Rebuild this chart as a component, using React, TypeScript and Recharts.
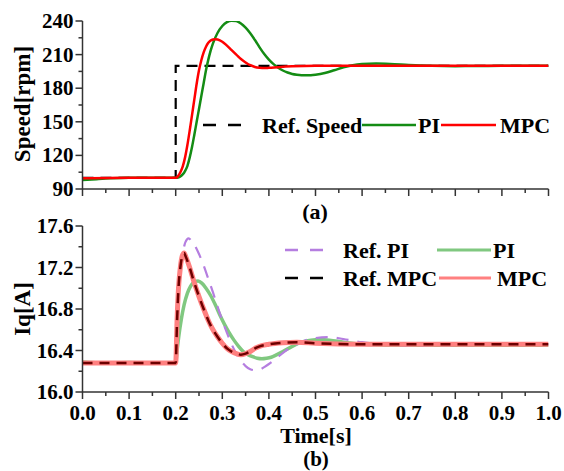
import { LineChart, Line, XAxis, YAxis } from "recharts";

const FONT = "'Liberation Serif', 'Times New Roman', serif";
const AXIS = "#333";

// ticks
const timeTicks = [0, 0.05, 0.1, 0.15, 0.2, 0.25, 0.3, 0.35, 0.4, 0.45, 0.5, 0.55, 0.6, 0.65, 0.7, 0.75, 0.8, 0.85, 0.9, 0.95, 1];
const timeLabels = [0, 0.1, 0.2, 0.3, 0.4, 0.5, 0.6, 0.7, 0.8, 0.9, 1];
const speedTicks = [90, 105, 120, 135, 150, 165, 180, 195, 210, 225, 240];
const speedLabels = [90, 120, 150, 180, 210, 240];
const iqTicks = [16.0, 16.2, 16.4, 16.6, 16.8, 17.0, 17.2, 17.4, 17.6];
const iqLabels = [16.0, 16.4, 16.8, 17.2, 17.6];

// (a) speed
const refSpeed = [
  { t: 0, v: 100 }, { t: 0.2, v: 100 }, { t: 0.2, v: 200 }, { t: 1, v: 200 },
];
const piSpeed = [
  { t: 0, v: 98 }, { t: 0.03, v: 98.8 }, { t: 0.06, v: 99.5 }, { t: 0.1, v: 100 }, { t: 0.2, v: 100 },
  { t: 0.205, v: 100.3 }, { t: 0.21, v: 101.2 }, { t: 0.215, v: 103 }, { t: 0.22, v: 106 },
  { t: 0.225, v: 110.5 }, { t: 0.23, v: 118 }, { t: 0.235, v: 127.5 }, { t: 0.24, v: 138.5 },
  { t: 0.245, v: 150 }, { t: 0.25, v: 161.5 }, { t: 0.255, v: 173 }, { t: 0.26, v: 184.5 },
  { t: 0.265, v: 196 }, { t: 0.27, v: 205.5 }, { t: 0.275, v: 213.5 }, { t: 0.28, v: 220 },
  { t: 0.29, v: 229.5 }, { t: 0.3, v: 235.5 }, { t: 0.31, v: 239 }, { t: 0.32, v: 240.3 },
  { t: 0.33, v: 240 }, { t: 0.34, v: 237.8 }, { t: 0.35, v: 234 }, { t: 0.36, v: 229 },
  { t: 0.37, v: 223 }, { t: 0.38, v: 216.5 }, { t: 0.39, v: 210.5 }, { t: 0.4, v: 205.5 },
  { t: 0.41, v: 201.5 }, { t: 0.42, v: 198.3 }, { t: 0.43, v: 195.8 }, { t: 0.44, v: 194 },
  { t: 0.45, v: 192.7 }, { t: 0.46, v: 192 }, { t: 0.47, v: 191.6 }, { t: 0.48, v: 191.5 },
  { t: 0.49, v: 191.6 }, { t: 0.5, v: 192 }, { t: 0.52, v: 193.5 }, { t: 0.54, v: 196 },
  { t: 0.56, v: 198.7 }, { t: 0.58, v: 200.5 }, { t: 0.6, v: 201.5 }, { t: 0.63, v: 202 },
  { t: 0.66, v: 201.7 }, { t: 0.7, v: 200.8 }, { t: 0.75, v: 200 }, { t: 0.8, v: 199.7 },
  { t: 0.85, v: 199.8 }, { t: 0.9, v: 200 }, { t: 1, v: 200 },
];
const mpcSpeed = [
  { t: 0, v: 99.5 }, { t: 0.1, v: 100 }, { t: 0.2, v: 100 }, { t: 0.202, v: 100.3 },
  { t: 0.205, v: 101.5 }, { t: 0.21, v: 105 }, { t: 0.215, v: 110 }, { t: 0.22, v: 118 },
  { t: 0.225, v: 129 }, { t: 0.23, v: 142 }, { t: 0.235, v: 156 }, { t: 0.24, v: 170 },
  { t: 0.245, v: 184 }, { t: 0.25, v: 196 }, { t: 0.255, v: 205 }, { t: 0.26, v: 212 },
  { t: 0.265, v: 217 }, { t: 0.27, v: 220.5 }, { t: 0.275, v: 222.5 }, { t: 0.28, v: 223.5 },
  { t: 0.285, v: 223.8 }, { t: 0.29, v: 223.5 }, { t: 0.3, v: 221.5 }, { t: 0.31, v: 218 },
  { t: 0.32, v: 214 }, { t: 0.33, v: 210 }, { t: 0.34, v: 206 }, { t: 0.35, v: 203 },
  { t: 0.36, v: 200.5 }, { t: 0.37, v: 199 }, { t: 0.38, v: 198.3 }, { t: 0.39, v: 198 },
  { t: 0.4, v: 198.2 }, { t: 0.42, v: 198.8 }, { t: 0.45, v: 199.5 }, { t: 0.5, v: 200 }, { t: 1, v: 200 },
];

// (b) iq
const refPiIq = [
  { t: 0, v: 16.28 }, { t: 0.2, v: 16.28 }, { t: 0.203, v: 16.6 }, { t: 0.207, v: 16.95 },
  { t: 0.212, v: 17.22 }, { t: 0.218, v: 17.4 }, { t: 0.224, v: 17.47 }, { t: 0.228, v: 17.48 },
  { t: 0.233, v: 17.46 }, { t: 0.24, v: 17.42 }, { t: 0.25, v: 17.33 }, { t: 0.26, v: 17.22 },
  { t: 0.27, v: 17.09 }, { t: 0.28, v: 16.96 }, { t: 0.29, v: 16.82 }, { t: 0.3, v: 16.69 },
  { t: 0.31, v: 16.57 }, { t: 0.32, v: 16.46 }, { t: 0.33, v: 16.37 }, { t: 0.34, v: 16.3 },
  { t: 0.35, v: 16.25 }, { t: 0.36, v: 16.22 }, { t: 0.37, v: 16.21 }, { t: 0.38, v: 16.215 },
  { t: 0.39, v: 16.24 }, { t: 0.4, v: 16.27 }, { t: 0.42, v: 16.34 }, { t: 0.44, v: 16.41 },
  { t: 0.46, v: 16.46 }, { t: 0.48, v: 16.5 }, { t: 0.5, v: 16.52 }, { t: 0.53, v: 16.53 },
  { t: 0.56, v: 16.51 }, { t: 0.6, v: 16.48 }, { t: 0.65, v: 16.46 }, { t: 0.7, v: 16.45 }, { t: 1, v: 16.46 },
];
const piIq = [
  { t: 0, v: 16.29 }, { t: 0.05, v: 16.28 }, { t: 0.1, v: 16.285 }, { t: 0.15, v: 16.28 }, { t: 0.2, v: 16.28 },
  { t: 0.203, v: 16.4 }, { t: 0.207, v: 16.55 }, { t: 0.212, v: 16.7 }, { t: 0.218, v: 16.84 },
  { t: 0.225, v: 16.95 }, { t: 0.232, v: 17.02 }, { t: 0.24, v: 17.06 }, { t: 0.248, v: 17.07 },
  { t: 0.256, v: 17.05 }, { t: 0.265, v: 17.0 }, { t: 0.275, v: 16.93 }, { t: 0.285, v: 16.84 },
  { t: 0.295, v: 16.74 }, { t: 0.305, v: 16.65 }, { t: 0.315, v: 16.57 }, { t: 0.325, v: 16.5 },
  { t: 0.335, v: 16.44 }, { t: 0.345, v: 16.39 }, { t: 0.355, v: 16.36 }, { t: 0.365, v: 16.34 },
  { t: 0.375, v: 16.325 }, { t: 0.385, v: 16.32 }, { t: 0.395, v: 16.325 }, { t: 0.405, v: 16.335 },
  { t: 0.415, v: 16.355 }, { t: 0.43, v: 16.39 }, { t: 0.45, v: 16.44 }, { t: 0.47, v: 16.48 },
  { t: 0.49, v: 16.5 }, { t: 0.51, v: 16.505 }, { t: 0.53, v: 16.5 }, { t: 0.56, v: 16.48 },
  { t: 0.6, v: 16.46 }, { t: 0.7, v: 16.45 }, { t: 0.8, v: 16.45 }, { t: 1, v: 16.45 },
];
const mpcIq = [
  { t: 0, v: 16.28 }, { t: 0.1, v: 16.28 }, { t: 0.2, v: 16.28 }, { t: 0.203, v: 16.7 },
  { t: 0.206, v: 17.0 }, { t: 0.21, v: 17.2 }, { t: 0.214, v: 17.31 }, { t: 0.218, v: 17.34 },
  { t: 0.222, v: 17.3 }, { t: 0.23, v: 17.2 }, { t: 0.238, v: 17.08 }, { t: 0.25, v: 16.92 },
  { t: 0.26, v: 16.8 }, { t: 0.27, v: 16.69 }, { t: 0.28, v: 16.6 }, { t: 0.29, v: 16.53 },
  { t: 0.3, v: 16.47 }, { t: 0.31, v: 16.42 }, { t: 0.32, v: 16.39 }, { t: 0.33, v: 16.37 },
  { t: 0.34, v: 16.36 }, { t: 0.35, v: 16.37 }, { t: 0.36, v: 16.39 }, { t: 0.37, v: 16.42 },
  { t: 0.38, v: 16.44 }, { t: 0.4, v: 16.46 }, { t: 0.43, v: 16.475 }, { t: 0.46, v: 16.48 },
  { t: 0.5, v: 16.47 }, { t: 0.6, v: 16.46 }, { t: 1, v: 16.46 },
];
const refMpcIq = [
  { t: 0, v: 16.28 }, { t: 0.1, v: 16.28 }, { t: 0.2, v: 16.28 }, { t: 0.203, v: 16.7 },
  { t: 0.206, v: 17.0 }, { t: 0.21, v: 17.2 }, { t: 0.214, v: 17.31 }, { t: 0.218, v: 17.34 },
  { t: 0.222, v: 17.3 }, { t: 0.23, v: 17.2 }, { t: 0.238, v: 17.08 }, { t: 0.25, v: 16.92 },
  { t: 0.26, v: 16.8 }, { t: 0.27, v: 16.69 }, { t: 0.28, v: 16.6 }, { t: 0.29, v: 16.53 },
  { t: 0.3, v: 16.47 }, { t: 0.31, v: 16.42 }, { t: 0.32, v: 16.39 }, { t: 0.33, v: 16.37 },
  { t: 0.34, v: 16.36 }, { t: 0.35, v: 16.37 }, { t: 0.36, v: 16.39 }, { t: 0.37, v: 16.42 },
  { t: 0.38, v: 16.44 }, { t: 0.4, v: 16.46 }, { t: 0.43, v: 16.475 }, { t: 0.46, v: 16.48 },
  { t: 0.5, v: 16.47 }, { t: 0.6, v: 16.46 }, { t: 1, v: 16.46 },
];

const isMajor = (v: number, labels: number[]) => labels.some((l) => Math.abs(l - v) < 1e-6);

const XTick = (props: any) => {
  const { x, y, payload, labels, showLabel } = props;
  const v = payload.value;
  const major = isMajor(v, labels);
  return (
    <g>
      <line x1={x} x2={x} y1={y} y2={y + (major ? 7 : 4)} stroke={AXIS} strokeWidth={1.5} />
      {showLabel && major && (
        <text x={x} y={y + 28} textAnchor="middle" fontFamily={FONT} fontWeight="bold" fontSize={21} fill="#000">
          {v.toFixed(1)}
        </text>
      )}
    </g>
  );
};

const YTick = (props: any) => {
  const { x, y, payload, labels, digits } = props;
  const v = payload.value;
  const major = isMajor(v, labels);
  return (
    <g>
      <line x1={x - (major ? 7 : 4)} x2={x} y1={y} y2={y} stroke={AXIS} strokeWidth={1.5} />
      {major && (
        <text x={x - 9} y={y + 7} textAnchor="end" fontFamily={FONT} fontWeight="bold" fontSize={21} fill="#000">
          {v.toFixed(digits)}
        </text>
      )}
    </g>
  );
};

const speedLegend = [
  { name: "Ref. Speed", color: "#000", dash: "13 12", width: 2.5, x1: 203, x2: 241, tx: 262 },
  { name: "PI", color: "#148c14", dash: "", width: 2.5, x1: 362, x2: 416, tx: 418 },
  { name: "MPC", color: "#ff0000", dash: "", width: 2.5, x1: 441, x2: 496, tx: 500 },
];
const iqLegend = [
  { name: "Ref. PI", color: "#b57ee0", dash: "13 12", width: 2.5, x1: 285, x2: 323, tx: 343, y: 250 },
  { name: "PI", color: "#80c880", dash: "", width: 3, x1: 437, x2: 491, tx: 493, y: 250 },
  { name: "Ref. MPC", color: "#000", dash: "13 12", width: 2.5, x1: 285, x2: 323, tx: 343, y: 278 },
  { name: "MPC", color: "#ff8080", dash: "", width: 3, x1: 439, x2: 491, tx: 497, y: 278 },
];

const axisLine = { stroke: AXIS, strokeWidth: 1.5 };

export default function App() {
  return (
    <div style={{ position: "absolute", left: 0, top: 0, width: 564, height: 471, background: "#fff" }}>
      <div style={{ position: "absolute", left: 0, top: 0 }}>
        <LineChart width={564} height={200} margin={{ top: 21, right: 15.5, bottom: 1, left: 22.5 }}>
          <XAxis dataKey="t" type="number" domain={[0, 1]} ticks={timeTicks} interval={0} height={10}
            tickSize={0} tickMargin={0} tickLine={false} axisLine={axisLine} allowDataOverflow
            tick={<XTick labels={timeLabels} showLabel={false} />} />
          <YAxis type="number" domain={[90, 240]} ticks={speedTicks} interval={0} width={60}
            tickSize={0} tickMargin={0} tickLine={false} axisLine={axisLine} allowDataOverflow
            tick={<YTick labels={speedLabels} digits={0} />} />
          <Line data={refSpeed} dataKey="v" type="linear" stroke="#000" strokeWidth={2.2} strokeDasharray="11 7" dot={false} isAnimationActive={false} />
          <Line data={piSpeed} dataKey="v" type="monotone" stroke="#148c14" strokeWidth={2.5} dot={false} isAnimationActive={false} />
          <Line data={mpcSpeed} dataKey="v" type="monotone" stroke="#ff0000" strokeWidth={2.5} dot={false} isAnimationActive={false} />
        </LineChart>
      </div>
      <div style={{ position: "absolute", left: 0, top: 200 }}>
        <LineChart width={564} height={271} margin={{ top: 26, right: 15.5, bottom: 49, left: 22.5 }}>
          <XAxis dataKey="t" type="number" domain={[0, 1]} ticks={timeTicks} interval={0} height={30}
            tickSize={0} tickMargin={0} tickLine={false} axisLine={axisLine} allowDataOverflow
            tick={<XTick labels={timeLabels} showLabel />} />
          <YAxis type="number" domain={[16, 17.6]} ticks={iqTicks} interval={0} width={60}
            tickSize={0} tickMargin={0} tickLine={false} axisLine={axisLine} allowDataOverflow
            tick={<YTick labels={iqLabels} digits={1} />} />
          <Line data={piIq} dataKey="v" type="monotone" stroke="#80c880" strokeWidth={3.5} dot={false} isAnimationActive={false} />
          <Line data={refPiIq} dataKey="v" type="monotone" stroke="#b57ee0" strokeWidth={2.2} strokeDasharray="12 9" dot={false} isAnimationActive={false} />
          <Line data={mpcIq} dataKey="v" type="monotone" stroke="#ff8080" strokeWidth={5} dot={false} isAnimationActive={false} />
          <Line data={refMpcIq} dataKey="v" type="monotone" stroke="#6e0000" strokeWidth={2.5} strokeDasharray="10 7" dot={false} isAnimationActive={false} />
        </LineChart>
      </div>
      <svg width={564} height={471} style={{ position: "absolute", left: 0, top: 0, pointerEvents: "none" }}>
        <g fontFamily={FONT} fontWeight="bold" fill="#000">
          <text transform="translate(30,104) rotate(-90)" textAnchor="middle" fontSize={23}>Speed[rpm]</text>
          <text transform="translate(30,309) rotate(-90)" textAnchor="middle" fontSize={23}>Iq[A]</text>
          <text x={315} y={219} textAnchor="middle" fontSize={22}>(a)</text>
          <text x={316} y={443} textAnchor="middle" fontSize={22}>Time[s]</text>
          <text x={316} y={466} textAnchor="middle" fontSize={21}>(b)</text>
          {speedLegend.map((e) => (
            <g key={e.name}>
              <line x1={e.x1} x2={e.x2} y1={125} y2={125} stroke={e.color} strokeWidth={e.width} strokeDasharray={e.dash} />
              <text x={e.tx} y={133} fontSize={22}>{e.name}</text>
            </g>
          ))}
          {iqLegend.map((e) => (
            <g key={e.name}>
              <line x1={e.x1} x2={e.x2} y1={e.y} y2={e.y} stroke={e.color} strokeWidth={e.width} strokeDasharray={e.dash} />
              <text x={e.tx} y={e.y + 8} fontSize={22}>{e.name}</text>
            </g>
          ))}
        </g>
      </svg>
    </div>
  );
}
